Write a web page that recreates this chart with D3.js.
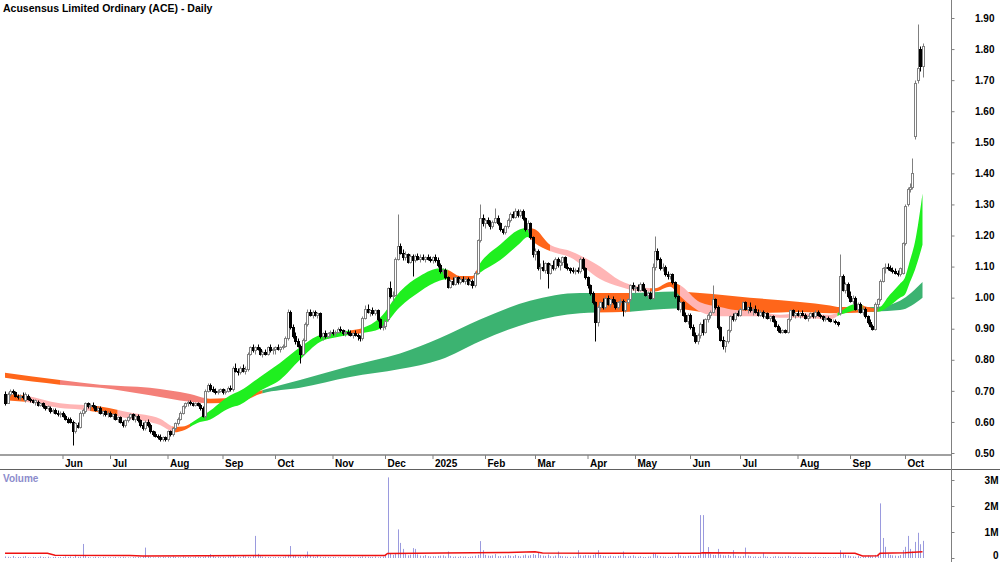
<!DOCTYPE html>
<html>
<head>
<meta charset="utf-8">
<script src="https://cdn.jsdelivr.net/npm/d3@7"></script>
<style>
  body { margin: 0; background: #fff; }
  svg { display: block; }
  text { font-family: "Liberation Sans", Arial, sans-serif; font-weight: bold; }
</style>
</head>
<body>
<div id="chart"></div>
<script>
// daily bars per month: [open, high, low, close]
const may24 = [[0.69,0.70,0.655,0.66],[0.66,0.695,0.66,0.69],[0.69,0.705,0.685,0.70],[0.70,0.705,0.69,0.695],[0.695,0.70,0.68,0.685],[0.685,0.69,0.675,0.68],[0.68,0.69,0.67,0.685],[0.685,0.695,0.675,0.68],[0.67,0.695,0.665,0.69],[0.685,0.69,0.67,0.675],[0.675,0.68,0.665,0.67],[0.67,0.675,0.66,0.665],[0.665,0.675,0.655,0.67],[0.665,0.67,0.65,0.655],[0.655,0.665,0.65,0.66],[0.66,0.665,0.645,0.65],[0.65,0.655,0.64,0.645],[0.645,0.655,0.64,0.65],[0.645,0.65,0.63,0.635],[0.635,0.645,0.63,0.64],[0.64,0.645,0.625,0.63],[0.63,0.64,0.62,0.625],[0.625,0.635,0.615,0.63]];
const jun24 = [[0.63,0.635,0.615,0.62],[0.62,0.625,0.605,0.61],[0.61,0.615,0.595,0.60],[0.61,0.615,0.595,0.60],[0.60,0.605,0.525,0.57],[0.57,0.60,0.565,0.595],[0.59,0.60,0.58,0.585],[0.585,0.635,0.58,0.63],[0.63,0.645,0.62,0.64],[0.635,0.665,0.63,0.66],[0.66,0.665,0.645,0.65],[0.65,0.66,0.64,0.655],[0.655,0.665,0.645,0.65],[0.65,0.655,0.635,0.64],[0.64,0.65,0.63,0.645],[0.645,0.65,0.625,0.63],[0.63,0.64,0.62,0.635],[0.635,0.64,0.62,0.625],[0.625,0.635,0.615,0.63]];
const jul24 = [[0.63,0.635,0.615,0.62],[0.62,0.63,0.61,0.625],[0.625,0.63,0.605,0.61],[0.61,0.62,0.60,0.615],[0.615,0.62,0.595,0.60],[0.60,0.605,0.585,0.59],[0.59,0.61,0.585,0.605],[0.605,0.62,0.60,0.615],[0.615,0.63,0.61,0.625],[0.625,0.63,0.605,0.61],[0.61,0.625,0.60,0.62],[0.62,0.625,0.60,0.605],[0.605,0.61,0.585,0.59],[0.59,0.60,0.575,0.58],[0.58,0.605,0.575,0.60],[0.60,0.61,0.585,0.59],[0.59,0.595,0.565,0.57],[0.57,0.575,0.555,0.56],[0.56,0.57,0.55,0.555],[0.555,0.56,0.545,0.55],[0.55,0.56,0.54,0.545],[0.545,0.555,0.54,0.55],[0.55,0.555,0.54,0.545]];
const aug24 = [[0.545,0.575,0.54,0.57],[0.57,0.575,0.555,0.56],[0.56,0.585,0.555,0.58],[0.58,0.60,0.575,0.595],[0.595,0.615,0.59,0.61],[0.61,0.635,0.605,0.63],[0.63,0.655,0.625,0.65],[0.65,0.665,0.645,0.66],[0.66,0.67,0.65,0.665],[0.665,0.67,0.655,0.66],[0.66,0.665,0.65,0.655],[0.655,0.665,0.65,0.66],[0.66,0.665,0.65,0.655],[0.655,0.66,0.64,0.645],[0.645,0.65,0.615,0.62],[0.62,0.705,0.61,0.70],[0.70,0.725,0.695,0.72],[0.72,0.725,0.70,0.705],[0.705,0.715,0.695,0.70],[0.70,0.71,0.69,0.695],[0.695,0.705,0.69,0.70],[0.70,0.71,0.695,0.705]];
const sep24 = [[0.705,0.71,0.69,0.695],[0.695,0.705,0.69,0.70],[0.70,0.715,0.695,0.71],[0.71,0.72,0.70,0.705],[0.705,0.78,0.70,0.775],[0.775,0.79,0.76,0.765],[0.765,0.775,0.75,0.76],[0.76,0.78,0.755,0.775],[0.775,0.785,0.76,0.765],[0.765,0.78,0.755,0.77],[0.77,0.825,0.765,0.82],[0.82,0.845,0.815,0.84],[0.84,0.85,0.825,0.83],[0.83,0.845,0.82,0.84],[0.84,0.85,0.83,0.835],[0.835,0.84,0.815,0.82],[0.82,0.83,0.81,0.825],[0.825,0.835,0.815,0.82],[0.82,0.845,0.815,0.84],[0.84,0.85,0.825,0.83],[0.83,0.84,0.82,0.835]];
const oct24 = [[0.835,0.845,0.82,0.84],[0.84,0.85,0.83,0.835],[0.835,0.845,0.825,0.84],[0.84,0.85,0.835,0.845],[0.845,0.875,0.84,0.87],[0.87,0.965,0.865,0.955],[0.955,0.96,0.90,0.905],[0.905,0.915,0.87,0.875],[0.875,0.89,0.85,0.86],[0.86,0.87,0.84,0.845],[0.845,0.85,0.79,0.82],[0.82,0.87,0.815,0.865],[0.865,0.92,0.86,0.915],[0.915,0.965,0.91,0.955],[0.955,0.965,0.94,0.945],[0.945,0.96,0.935,0.955],[0.955,0.96,0.94,0.945],[0.945,0.955,0.935,0.95],[0.95,0.955,0.87,0.875],[0.875,0.89,0.865,0.885],[0.885,0.895,0.87,0.875],[0.875,0.89,0.87,0.885],[0.885,0.895,0.875,0.89]];
const nov24 = [[0.89,0.90,0.88,0.885],[0.885,0.895,0.875,0.89],[0.89,0.905,0.885,0.90],[0.90,0.91,0.89,0.895],[0.895,0.90,0.88,0.885],[0.885,0.895,0.875,0.89],[0.89,0.90,0.88,0.885],[0.885,0.895,0.875,0.88],[0.88,0.89,0.87,0.885],[0.885,0.895,0.875,0.88],[0.88,0.885,0.865,0.875],[0.875,0.88,0.86,0.87],[0.87,0.94,0.865,0.935],[0.935,0.975,0.93,0.965],[0.965,0.98,0.95,0.955],[0.955,0.965,0.94,0.96],[0.96,0.97,0.945,0.95],[0.95,0.965,0.945,0.96],[0.96,0.965,0.925,0.93],[0.93,0.935,0.90,0.905],[0.905,0.915,0.895,0.91]];
const dec24 = [[0.91,0.93,0.90,0.925],[0.93,1.035,0.925,1.03],[1.03,1.055,1.0,1.005],[1.005,1.02,0.99,1.01],[1.01,1.13,1.005,1.125],[1.125,1.27,1.12,1.165],[1.165,1.175,1.14,1.145],[1.145,1.155,1.12,1.13],[1.13,1.15,1.12,1.14],[1.14,1.145,1.11,1.115],[1.115,1.14,1.11,1.135],[1.135,1.14,1.07,1.12],[1.12,1.14,1.115,1.135],[1.135,1.145,1.12,1.125],[1.125,1.14,1.115,1.13],[1.13,1.14,1.12,1.125],[1.125,1.135,1.115,1.13],[1.13,1.14,1.12,1.125],[1.125,1.135,1.115,1.12]];
const jan25 = [[1.12,1.135,1.11,1.13],[1.13,1.14,1.115,1.12],[1.12,1.13,1.10,1.105],[1.105,1.11,1.08,1.085],[1.085,1.095,1.075,1.09],[1.09,1.095,1.06,1.065],[1.065,1.07,1.03,1.035],[1.035,1.06,1.03,1.055],[1.055,1.065,1.04,1.045],[1.045,1.07,1.04,1.065],[1.065,1.07,1.045,1.05],[1.05,1.065,1.045,1.06],[1.06,1.07,1.05,1.055],[1.055,1.065,1.045,1.06],[1.06,1.065,1.04,1.045],[1.045,1.06,1.04,1.055],[1.055,1.06,1.03,1.04],[1.04,1.085,1.035,1.08],[1.08,1.19,1.075,1.185],[1.185,1.30,1.18,1.255],[1.255,1.27,1.23,1.24]];
const feb25 = [[1.24,1.255,1.225,1.25],[1.25,1.26,1.235,1.24],[1.24,1.25,1.22,1.23],[1.23,1.25,1.225,1.245],[1.245,1.29,1.24,1.255],[1.255,1.265,1.235,1.24],[1.24,1.245,1.215,1.22],[1.22,1.225,1.205,1.21],[1.21,1.235,1.205,1.23],[1.23,1.255,1.225,1.25],[1.25,1.275,1.245,1.27],[1.27,1.28,1.255,1.26],[1.26,1.29,1.255,1.28],[1.28,1.285,1.26,1.265],[1.265,1.285,1.26,1.28],[1.28,1.285,1.25,1.255],[1.255,1.26,1.215,1.22],[1.22,1.25,1.21,1.24],[1.24,1.245,1.19,1.195],[1.195,1.20,1.13,1.14]];
const mar25 = [[1.14,1.16,1.12,1.15],[1.15,1.155,1.09,1.095],[1.095,1.11,1.06,1.10],[1.10,1.12,1.085,1.09],[1.09,1.115,1.08,1.11],[1.11,1.115,1.03,1.08],[1.08,1.11,1.075,1.105],[1.105,1.12,1.09,1.095],[1.095,1.13,1.09,1.125],[1.125,1.13,1.10,1.105],[1.105,1.12,1.09,1.115],[1.115,1.135,1.105,1.13],[1.13,1.135,1.095,1.10],[1.10,1.11,1.09,1.095],[1.095,1.10,1.08,1.09],[1.09,1.10,1.08,1.085],[1.085,1.095,1.075,1.09],[1.09,1.10,1.08,1.085],[1.085,1.13,1.08,1.125],[1.125,1.13,1.09,1.095],[1.095,1.10,1.06,1.065]];
const apr25 = [[1.065,1.07,1.03,1.04],[1.04,1.045,1.01,1.015],[1.015,1.02,0.98,0.985],[0.985,0.99,0.86,0.92],[0.92,0.975,0.91,0.97],[0.97,0.99,0.96,0.985],[0.985,1.0,0.965,0.97],[0.97,1.005,0.965,1.0],[1.0,1.01,0.975,0.98],[0.98,1.0,0.97,0.995],[0.995,1.005,0.98,0.985],[0.985,0.995,0.965,0.97],[0.97,0.99,0.965,0.985],[0.985,1.0,0.975,0.99],[0.99,0.995,0.94,0.96],[0.96,0.99,0.955,0.985],[0.985,1.0,0.98,0.995],[0.995,1.045,0.99,1.04],[1.04,1.05,1.025,1.03]];
const may25 = [[1.03,1.04,1.015,1.035],[1.035,1.045,1.02,1.025],[1.025,1.05,1.02,1.045],[1.045,1.05,1.02,1.025],[1.025,1.03,1.005,1.01],[1.01,1.02,1.0,1.015],[1.015,1.02,0.995,1.0],[1.0,1.11,0.995,1.10],[1.10,1.20,1.09,1.15],[1.15,1.16,1.12,1.125],[1.125,1.13,1.09,1.095],[1.095,1.11,1.085,1.10],[1.10,1.105,1.07,1.075],[1.075,1.085,1.06,1.07],[1.07,1.08,1.06,1.075],[1.075,1.08,1.045,1.05],[1.05,1.055,1.0,1.005],[1.005,1.01,0.96,0.965],[0.965,0.99,0.955,0.985],[0.985,0.99,0.94,0.945],[0.945,0.955,0.92,0.925],[0.925,0.95,0.915,0.945]];
const jun25 = [[0.945,0.95,0.90,0.905],[0.905,0.915,0.875,0.88],[0.88,0.89,0.855,0.86],[0.86,0.885,0.85,0.88],[0.88,0.92,0.87,0.915],[0.915,0.93,0.88,0.89],[0.89,0.935,0.885,0.93],[0.93,0.95,0.92,0.945],[0.945,0.96,0.935,0.955],[0.955,1.04,0.95,0.995],[0.995,1.0,0.965,0.97],[0.97,0.975,0.90,0.905],[0.905,0.91,0.86,0.865],[0.865,0.875,0.835,0.845],[0.845,0.865,0.825,0.86],[0.86,0.90,0.855,0.895],[0.895,0.945,0.89,0.94],[0.94,0.95,0.925,0.93],[0.93,0.955,0.925,0.95],[0.95,0.96,0.94,0.945]];
const jul25 = [[0.945,0.97,0.94,0.965],[0.965,0.99,0.96,0.985],[0.985,0.99,0.96,0.965],[0.965,0.975,0.95,0.97],[0.97,0.985,0.955,0.96],[0.96,0.97,0.945,0.965],[0.965,0.975,0.95,0.955],[0.955,0.965,0.94,0.945],[0.945,0.96,0.94,0.955],[0.955,0.96,0.935,0.94],[0.94,0.955,0.935,0.95],[0.95,0.955,0.93,0.935],[0.935,0.945,0.925,0.94],[0.94,0.945,0.92,0.925],[0.925,0.93,0.905,0.91],[0.91,0.915,0.89,0.895],[0.895,0.905,0.885,0.89],[0.89,0.90,0.885,0.895],[0.895,0.90,0.885,0.89],[0.89,0.935,0.885,0.93],[0.93,0.965,0.925,0.96],[0.96,0.965,0.94,0.945],[0.945,0.955,0.935,0.95]];
const aug25 = [[0.95,0.96,0.94,0.945],[0.945,0.955,0.935,0.95],[0.95,0.96,0.94,0.945],[0.945,0.95,0.93,0.935],[0.935,0.945,0.925,0.94],[0.94,0.955,0.935,0.95],[0.95,0.955,0.935,0.94],[0.94,0.96,0.935,0.955],[0.955,0.96,0.94,0.945],[0.945,0.95,0.935,0.94],[0.94,0.945,0.925,0.93],[0.93,0.94,0.925,0.935],[0.935,0.94,0.925,0.93],[0.93,0.935,0.92,0.925],[0.925,0.93,0.92,0.925],[0.925,0.93,0.915,0.92],[0.92,0.925,0.91,0.915],[0.95,1.14,0.945,1.07],[1.07,1.075,1.02,1.025],[1.025,1.05,1.015,1.045],[1.045,1.05,1.0,1.005]];
const sep25 = [[1.005,1.02,0.985,0.99],[0.99,1.01,0.98,1.0],[1.0,1.005,0.96,0.965],[0.965,0.985,0.955,0.98],[0.98,0.985,0.95,0.955],[0.955,0.97,0.945,0.965],[0.965,0.97,0.935,0.94],[0.94,0.945,0.915,0.92],[0.92,0.93,0.905,0.91],[0.91,0.915,0.895,0.90],[0.90,0.985,0.895,0.98],[0.98,1.0,0.965,0.995],[0.995,1.06,0.99,1.055],[1.055,1.10,1.05,1.095],[1.095,1.11,1.08,1.10],[1.10,1.11,1.09,1.095],[1.095,1.105,1.085,1.09],[1.09,1.10,1.08,1.085],[1.085,1.095,1.075,1.08],[1.08,1.09,1.07,1.075],[1.075,1.10,1.07,1.095],[1.08,1.18,1.075,1.175]];
const oct25 = [[1.175,1.30,1.17,1.295],[1.30,1.355,1.295,1.35],[1.35,1.37,1.34,1.355],[1.355,1.45,1.35,1.40],[1.52,1.70,1.51,1.69],[1.70,1.88,1.69,1.74],[1.80,1.81,1.73,1.745],[1.745,1.82,1.71,1.81]];

// daily volume per month, thousands of shares
const volMay24 = [60,45,30,80,25,40,35,55,70,30,20,45,35,25,60,40,30,50,20,35,45,30,40];
const volJun24 = [35,60,40,55,30,120,45,50,540,70,40,25,30,45,35,20,40,30,25];
const volJul24 = [30,25,40,20,35,45,30,25,20,35,30,40,25,50,400,60,30,25,20,35,25,40,30];
const volAug24 = [45,35,60,40,30,25,55,35,40,30,25,50,45,35,40,60,70,150,80,40,55,45];
const volSep24 = [50,40,60,70,110,55,45,40,90,60,50,45,80,850,160,70,50,45,40,35,30];
const volOct24 = [35,40,30,45,60,120,460,90,70,50,60,45,110,250,90,60,40,80,50,35,45,40,30];
const volNov24 = [40,30,25,35,20,30,25,45,30,20,35,40,60,50,45,35,40,55,30,45,60];
const volDec24 = [90,3100,180,120,160,1100,580,350,150,100,130,380,350,140,90,80,110,70,60];
const volJan25 = [70,60,80,90,100,60,250,80,50,60,45,70,55,60,40,50,65,90,120,650,300];
const volFeb25 = [120,90,80,100,150,70,80,60,90,110,85,70,120,80,60,100,130,90,110,150];
const volMar25 = [120,200,110,90,80,130,70,60,90,250,80,70,60,50,45,60,55,300,100,90,110];
const volApr25 = [100,90,120,150,300,110,80,70,60,90,70,60,80,90,250,70,60,80,100];
const volMay25 = [60,50,70,45,40,55,60,200,180,90,70,60,50,45,40,60,80,200,90,70,60,80];
const volJun25 = [90,80,70,100,1650,1650,200,420,150,120,110,350,130,100,90,120,80,300,90,70];
const volJul25 = [60,80,400,90,70,50,60,45,55,200,60,50,40,55,70,60,45,50,60,80,55,40,50];
const volAug25 = [40,50,35,30,45,40,35,50,30,25,40,35,30,20,25,30,20,300,180,120,90];
const volSep25 = [70,60,50,80,40,35,60,90,70,60,120,150,2100,770,430,160,120,100,90,80,110,300];
const volOct25 = [430,850,350,250,620,970,530,660];

// volume average line (bar index, thousands)
const volAvgIdx = [0,17,20,50,55,80,100,152,153,175,200,212,215,240,278,279,300,330,340,343,349,350,360,367];
const volAvgVal = [180,180,110,100,80,90,100,100,175,190,210,240,190,180,180,200,190,180,180,80,90,180,200,240];

// short-term moving average ribbon (bar index, low edge, high edge)
const shortIdx = [0,8,22,30,38,50,62,68,71,78,81,90,94,102,110,118,126,134,143,150,158,166,174,177,182,187,190,198,206,209,212,218,226,238,246,254,260,266,270,278,286,292,302,310,318,330,334,338,341,345,349,354,358,360,362,364,367];
const shortLo = [0.67,0.665,0.645,0.64,0.63,0.61,0.59,0.567,0.572,0.60,0.605,0.645,0.655,0.70,0.735,0.80,0.857,0.875,0.886,0.90,0.97,1.02,1.055,1.06,1.05,1.06,1.08,1.12,1.175,1.195,1.175,1.15,1.13,1.06,1.035,1.02,1.02,1.035,1.005,0.955,0.94,0.94,0.94,0.935,0.935,0.93,0.945,0.955,0.96,0.955,0.955,0.975,1.00,1.01,1.05,1.09,1.17];
const shortHi = [0.69,0.685,0.66,0.655,0.65,0.63,0.61,0.584,0.585,0.615,0.63,0.685,0.70,0.745,0.79,0.84,0.88,0.89,0.902,0.935,1.02,1.07,1.095,1.09,1.07,1.07,1.11,1.17,1.22,1.225,1.22,1.17,1.15,1.10,1.055,1.035,1.03,1.05,1.04,0.985,0.97,0.96,0.955,0.945,0.95,0.945,0.955,0.975,0.98,0.97,0.965,1.01,1.045,1.065,1.12,1.18,1.335];
const shortTrendStart = [0,8,34,45,67,74,138,143,177,189,210,218,258,270,333,343,349];
const shortTrend = ['mixed','down','mixed','down','mixed','up','mixed','up','mixed','up','mixed','down','mixed','down','up','mixed','up'];

// long-term moving average ribbon
const longIdx = [0,22,38,58,74,82,94,102,118,138,158,174,190,210,230,250,268,278,298,318,330,334,348,358,367];
const longLo = [0.742,0.72,0.71,0.686,0.665,0.66,0.665,0.69,0.71,0.745,0.77,0.80,0.86,0.92,0.95,0.955,0.965,0.955,0.95,0.954,0.95,0.95,0.955,0.96,1.0];
const longHi = [0.758,0.735,0.72,0.71,0.69,0.675,0.68,0.70,0.735,0.78,0.82,0.87,0.93,0.99,1.015,1.015,1.02,1.015,1.00,0.986,0.975,0.97,0.97,0.99,1.05];
const longTrendStart = [0,22,80,103,236,250,270,346];
const longTrend = ['mixed','down','mixed','up','mixed','up','mixed','up'];

const monthLabels = ['Jun','Jul','Aug','Sep','Oct','Nov','Dec','2025','Feb','Mar','Apr','May','Jun','Jul','Aug','Sep','Oct'];
const priceTicks = [0.5,0.6,0.7,0.8,0.9,1.0,1.1,1.2,1.3,1.4,1.5,1.6,1.7,1.8,1.9];
const volumeTicks = [0, 1e6, 2e6, 3e6];

const months = [may24,jun24,jul24,aug24,sep24,oct24,nov24,dec24,jan25,feb25,mar25,apr25,may25,jun25,jul25,aug25,sep25,oct25];
const volMonths = [volMay24,volJun24,volJul24,volAug24,volSep24,volOct24,volNov24,volDec24,volJan25,volFeb25,volMar25,volApr25,volMay25,volJun25,volJul25,volAug25,volSep25,volOct25];

const bars = months.flat();
const volumes = volMonths.flat().map(v => v * 1000);
const monthStarts = [];
let acc = 0;
months.forEach(m => { monthStarts.push(acc); acc += m.length; });

const W = 1000, H = 562;
const axisX = 951;

const svg = d3.select('#chart').append('svg')
  .attr('width', W).attr('height', H);

const x = d3.scaleLinear().domain([0, bars.length - 1]).range([5, 5 + 2.5 * (bars.length - 1)]);
const y = d3.scaleLinear().domain([0.5, 1.9]).range([453, 18]);
const yVol = d3.scaleLinear().domain([0, 3e6]).range([558, 480]);

const trendColor = {
  short: { up: '#1fef1f', down: '#ffb5b5', mixed: '#ff661a' },
  long: { up: '#3cb371', down: '#f48079', mixed: '#ff661a' }
};

// 绘制均线带，按趋势分段着色
function drawRibbon(name, idx, lo, hi, starts, trends) {
  const pts = idx.map((d, i) => ({ i: d, lo: lo[i], hi: hi[i] }));
  const area = d3.area()
    .x(d => x(d.i))
    .y0(d => y(d.lo))
    .y1(d => y(d.hi))
    .curve(d3.curveMonotoneX);
  const path = area(pts);
  const g = svg.append('g');
  starts.forEach((s, k) => {
    const e = k < starts.length - 1 ? starts[k + 1] : idx[idx.length - 1] + 1;
    const id = `clip-${name}-${k}`;
    svg.append('clipPath').attr('id', id)
      .append('rect')
      .attr('x', x(s)).attr('y', 0)
      .attr('width', x(e) - x(s) + (k === starts.length - 1 ? 2 : 0.3))
      .attr('height', 460);
    g.append('path')
      .attr('d', path)
      .attr('fill', trendColor[name][trends[k]])
      .attr('clip-path', `url(#${id})`);
  });
}

drawRibbon('long', longIdx, longLo, longHi, longTrendStart, longTrend);
drawRibbon('short', shortIdx, shortLo, shortHi, shortTrendStart, shortTrend);

// 蜡烛图
const cx = i => Math.round(x(i)) + 0.5;
const py = v => Math.round(y(v)) + 0.5;
const candles = svg.append('g');
candles.selectAll('line')
  .data(bars)
  .join('line')
  .attr('x1', (d, i) => cx(i)).attr('x2', (d, i) => cx(i))
  .attr('y1', d => py(d[1])).attr('y2', d => py(d[2]))
  .attr('stroke', d => d[3] >= d[0] ? '#808080' : '#000')
  .attr('stroke-width', 1);
candles.selectAll('rect')
  .data(bars)
  .join('rect')
  .attr('x', (d, i) => cx(i) - 1)
  .attr('width', 2)
  .attr('y', d => py(Math.max(d[0], d[3])))
  .attr('height', d => Math.max(0, py(Math.min(d[0], d[3])) - py(Math.max(d[0], d[3]))))
  .attr('fill', d => d[3] >= d[0] ? '#fff' : '#000')
  .attr('stroke', d => d[3] >= d[0] ? '#808080' : '#000')
  .attr('stroke-width', 1);

// 标题
svg.append('text')
  .attr('x', 3).attr('y', 12)
  .style('font-size', '10.5px')
  .attr('fill', '#000')
  .text('Acusensus Limited Ordinary (ACE) - Daily');

// 坐标框线
svg.append('line').attr('x1', 0).attr('x2', axisX).attr('y1', 455).attr('y2', 455)
  .attr('stroke', '#a0a0a0').attr('stroke-width', 2);
svg.append('line').attr('x1', 0).attr('x2', W).attr('y1', 469.5).attr('y2', 469.5)
  .attr('stroke', '#606060').attr('stroke-width', 1);
svg.append('line').attr('x1', axisX + 0.5).attr('x2', axisX + 0.5).attr('y1', 0).attr('y2', H)
  .attr('stroke', '#808080').attr('stroke-width', 1);

// 价格轴
const priceAxis = svg.append('g')
  .attr('transform', `translate(${axisX + 0.5},0)`)
  .call(d3.axisRight(y).tickValues(priceTicks).tickFormat(d3.format('.2f')).tickSize(3).tickSizeOuter(0));
priceAxis.select('.domain').remove();
priceAxis.selectAll('.tick line').attr('stroke', '#808080');
priceAxis.selectAll('.tick text')
  .attr('x', 43).attr('text-anchor', 'end')
  .style('font-size', '10px').attr('fill', '#000');

// 月份轴
const monthAxis = svg.append('g')
  .attr('transform', 'translate(0,455)')
  .call(d3.axisBottom(x).tickValues(monthStarts.slice(1)).tickFormat((d, i) => monthLabels[i]).tickSize(4).tickPadding(1).tickSizeOuter(0));
monthAxis.select('.domain').remove();
monthAxis.selectAll('.tick line').attr('stroke', '#808080');
monthAxis.selectAll('.tick text')
  .attr('x', 2).attr('text-anchor', 'start')
  .style('font-size', '10px').attr('fill', '#000');

// 成交量
svg.append('text')
  .attr('x', 3).attr('y', 482)
  .style('font-size', '10px')
  .attr('fill', '#8c8ccc')
  .text('Volume');

svg.append('g').selectAll('line')
  .data(volumes)
  .join('line')
  .attr('x1', (d, i) => cx(i)).attr('x2', (d, i) => cx(i))
  .attr('y1', yVol(0)).attr('y2', d => yVol(d))
  .attr('stroke', '#9a9ade').attr('stroke-width', 1);

const avgLine = d3.line()
  .x(d => x(d[0]))
  .y(d => yVol(d[1] * 1000));
svg.append('path')
  .datum(volAvgIdx.map((d, i) => [d, volAvgVal[i]]))
  .attr('d', avgLine)
  .attr('fill', 'none')
  .attr('stroke', '#ee1111')
  .attr('stroke-width', 1.5);

const volAxis = svg.append('g')
  .attr('transform', `translate(${axisX + 0.5},0)`)
  .call(d3.axisRight(yVol).tickValues(volumeTicks).tickFormat(d => d === 0 ? '0' : (d / 1e6) + 'M').tickSize(3).tickSizeOuter(0));
volAxis.select('.domain').remove();
volAxis.selectAll('.tick line').attr('stroke', '#808080');
volAxis.selectAll('.tick text')
  .attr('x', 47).attr('text-anchor', 'end')
  .attr('dy', d => d === 0 ? '0.05em' : '0.32em')
  .style('font-size', '10px').attr('fill', '#000');
</script>
</body>
</html>
